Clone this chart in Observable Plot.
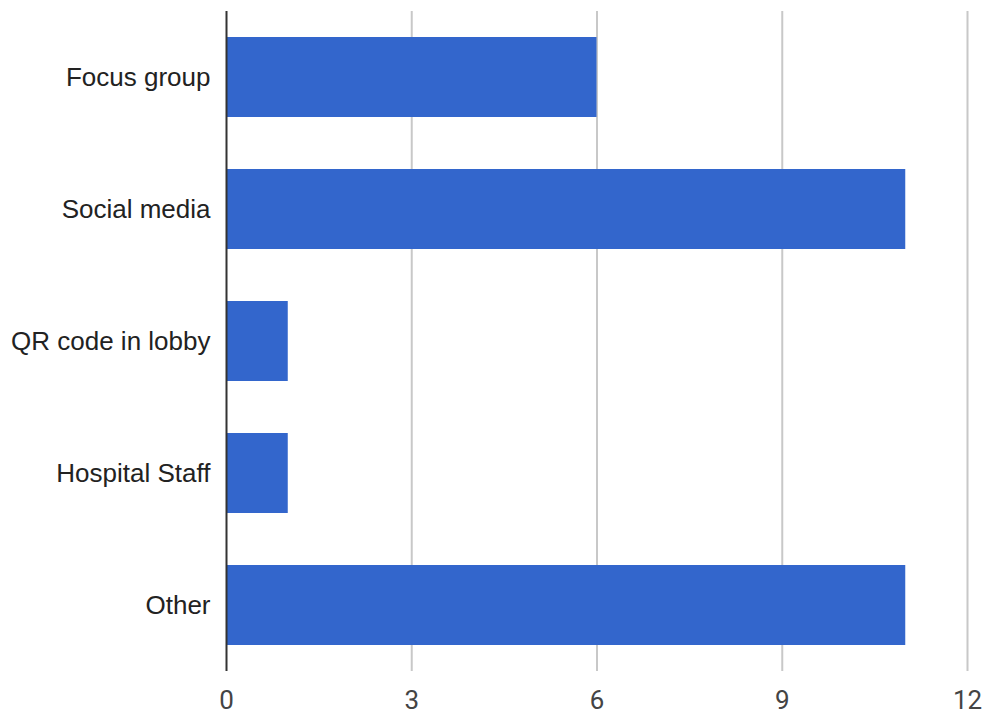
<!DOCTYPE html>
<html><head><meta charset="utf-8">
<script src="https://cdn.jsdelivr.net/npm/d3@7"></script>
<script src="https://cdn.jsdelivr.net/npm/@observablehq/plot@0.6"></script>
<style>
body{margin:0;background:#fff}
g[aria-label="y-axis tick label"]{font-family:"Liberation Sans",Arial,sans-serif;font-size:26px;fill:#222}
g[aria-label="x-axis tick label"]{font-family:Roboto,sans-serif;font-size:26px;fill:#444}
</style>
</head><body><div id="chart"></div>
<script>
const categories = ["Focus group", "Social media", "QR code in lobby", "Hospital Staff", "Other"];
const values = [6, 11, 1, 1, 11];
const xTicks = [0, 3, 6, 9, 12];
const data = categories.map((c, i) => ({category: c, value: values[i]}));

const chart = Plot.plot({
  width: 982, height: 716,
  marginLeft: 226, marginRight: 15, marginTop: 11, marginBottom: 45,
  x: {domain: [0, 12], ticks: xTicks, label: null},
  y: {domain: categories, label: null, paddingInner: 0.394, paddingOuter: 0.197},
  marks: [
    Plot.gridX(xTicks.filter(d => d > 0), {stroke: "#c8c8c8", strokeOpacity: 1, strokeWidth: 2}),
    Plot.barX(data, {x: "value", y: "category", fill: "#3366cc"}),
    Plot.ruleX([0], {stroke: "#333", strokeWidth: 2}),
    Plot.axisX({ticks: xTicks, tickSize: 0, tickPadding: 19, label: null}),
    Plot.axisY({tickSize: 0, tickPadding: 16, label: null})
  ],
  style: {background: "#fff"}
});
document.getElementById("chart").appendChild(chart);
d3.select(chart).selectAll('g[aria-label="y-axis tick label"]').attr("font-size", null).attr("font-family", null);
d3.select(chart).selectAll('g[aria-label="x-axis tick label"]').attr("font-size", null).attr("font-family", null);
</script></body></html>
